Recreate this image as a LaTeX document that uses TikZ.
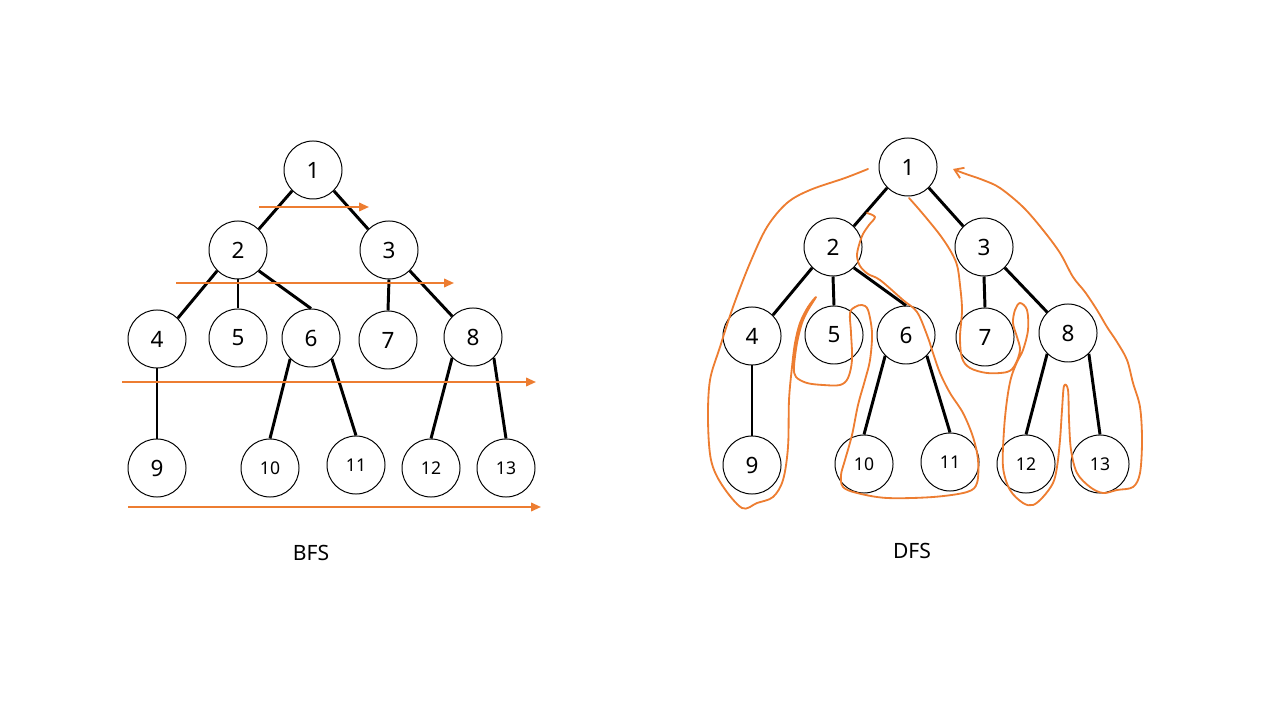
\documentclass[tikz,border=0pt]{standalone}
\usepackage{fontspec}
\setmainfont{Noto Sans}
\usetikzlibrary{arrows.meta}
\definecolor{orng}{RGB}{237,125,49}
\tikzset{
  vertex/.style={draw, circle, line width=0.7pt, minimum size=1.45cm, inner sep=0pt},
  big/.style={font=\fontsize{16}{18}\selectfont},
  small/.style={font=\fontsize{12.5}{14}\selectfont},
  edge/.style={line width=2.1pt},
  sweep/.style={orng, line width=1.4pt, -{Triangle[length=7pt,width=6pt]}},
  pen/.style={orng, line width=1.3pt, line cap=round, line join=round},
  caption/.style={font=\fontsize{15}{17}\selectfont}
}
\begin{document}
\begin{tikzpicture}[x=0.025cm, y=-0.025cm]
\useasboundingbox (0,0) rectangle (1280,720);
% BFS tree
\foreach \n/\x/\y/\s in {1/313/170/big, 2/238/250/big, 3/389/250/big, 4/157/339/big, 5/238/338/big,
    6/311/338/big, 7/388/340/big, 8/473/337/big, 9/157/468/big,
    10/270/468/small, 11/356/465/small, 12/431/468/small, 13/506/468/small}
  \node[vertex, \s] (b\n) at (\x,\y) {\n};
\foreach \a/\p/\b/\q in {1/225/2/45, 1/315/3/135, 2/225/4/45, 2/270/5/90, 2/315/6/90, 3/270/7/90,
    3/315/8/135, 4/270/9/90, 6/225/10/90, 6/315/11/90, 8/225/12/90, 8/315/13/90}
  \draw[edge] (b\a.\p) -- (b\b.\q);
% level sweeps
\coordinate (s1) at (259,207);  \coordinate (e1) at (369,207);
\coordinate (s2) at (176,283);  \coordinate (e2) at (454,283);
\coordinate (s3) at (122,382);  \coordinate (e3) at (536,382);
\coordinate (s4) at (128,507);  \coordinate (e4) at (541,507);
\foreach \i in {1,...,4}
  \draw[sweep] (s\i) -- (e\i);
\node[caption] (bfs) at (311,553) {BFS};
% DFS tree
\foreach \n/\x/\y/\s in {1/908/167/big, 2/833/247/big, 3/984/247/big, 4/752/336/big, 5/834/335/big,
    6/906/335/big, 7/985/337/big, 8/1068/333/big, 9/752/465/big,
    10/864/464/small, 11/950/462/small, 12/1026/464/small, 13/1100/464/small}
  \node[vertex, \s] (d\n) at (\x,\y) {\n};
\foreach \a/\p/\b/\q in {1/225/2/45, 1/315/3/135, 2/225/4/45, 2/270/5/90, 2/315/6/90, 3/270/7/90,
    3/315/8/135, 4/270/9/90, 6/225/10/90, 6/315/11/90, 8/225/12/90, 8/315/13/90}
  \draw[edge] (d\a.\p) -- (d\b.\q);
% hand drawn walk
\draw[pen] plot[smooth, tension=0.55] coordinates {(868,169) (845,178) (810,190) (787,203) (767,227)
  (750,263) (733,307) (720,347) (710,380) (708,420) (711,460) (722,485) (742,508) (757,503)
  (773,497) (783,480) (788,447) (789,400) (792,367) (795,343) (800,323) (808,307) (816,297)
  (808,310) (802,323) (797,343) (794,367) (796,377) (807,383) (823,385) (840,385) (848,378)
  (852,360) (851,333) (850,313) (855,307) (862,305) (868,310) (872,333) (870,360) (865,380)
  (858,405) (852,435) (845,460) (841,475) (843,487) (857,493) (887,498) (933,497) (967,492)
  (977,483) (978,460) (973,437) (963,413) (950,393) (940,373) (933,353) (927,335) (917,312)
  (903,300) (880,280) (868,274) (860,266) (857,256) (859,245) (863,234) (869,225) (875,217)
  (867,213)};
\draw[pen, -{Straight Barb[length=6pt,width=8pt]}] plot[smooth, tension=0.55] coordinates {(909,198)
  (917,207) (928,220) (940,235) (950,250) (957,265) (960,285) (962,310) (960,337) (962,358)
  (970,368) (987,373) (1007,372) (1015,365) (1020,350) (1017,337) (1013,323) (1015,310)
  (1020,303) (1027,310) (1028,330) (1023,350) (1017,362) (1011,378) (1007,400) (1004,430)
  (1003,467) (1010,490) (1023,503) (1033,505) (1043,497) (1053,483) (1057,467) (1060,440)
  (1062,410) (1064,386) (1068,390) (1069,420) (1071,450) (1077,473) (1090,487) (1103,493)
  (1117,490) (1133,487) (1140,473) (1142,440) (1140,407) (1133,383) (1127,360) (1117,342)
  (1107,327) (1097,310) (1085,292) (1073,277) (1060,253) (1043,230) (1023,207) (1000,188)
  (983,180) (963,173) (953,169)};
\node[caption] (dfs) at (912,551) {DFS};
\end{tikzpicture}
\end{document}
